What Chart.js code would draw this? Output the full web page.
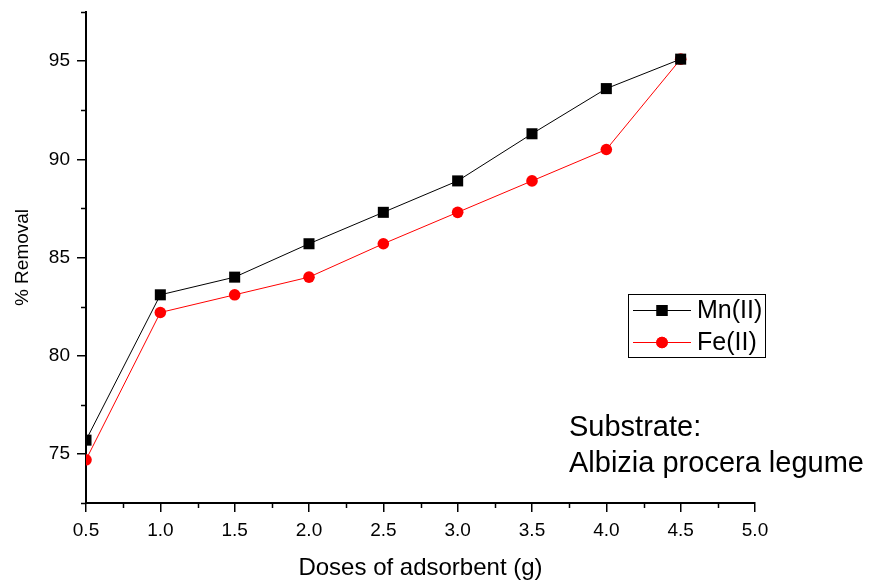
<!DOCTYPE html>
<html>
<head>
<meta charset="utf-8">
<script src="https://cdn.jsdelivr.net/npm/chart.js@4"></script>
<style>
html,body{margin:0;padding:0;background:#fff;}
#wrap{width:870px;height:580px;position:relative;}
</style>
</head>
<body>
<div id="wrap"><canvas id="c" width="870" height="580"></canvas></div>
<script>
const doses = [0.5, 1.0, 1.5, 2.0, 2.5, 3.0, 3.5, 4.0, 4.5];
const mnRemoval = [75.7, 83.1, 84.0, 85.7, 87.3, 88.9, 91.3, 93.6, 95.1];
const feRemoval = [74.7, 82.2, 83.1, 84.0, 85.7, 87.3, 88.9, 90.5, 95.1];
const xTicks = [0.5, 1.0, 1.5, 2.0, 2.5, 3.0, 3.5, 4.0, 4.5, 5.0];
const xMinorTicks = [0.75, 1.25, 1.75, 2.25, 2.75, 3.25, 3.75, 4.25, 4.75];
const yTicks = [75, 80, 85, 90, 95];
const yMinorTicks = [72.5, 77.5, 82.5, 87.5, 92.5, 97.5];
const seriesLabels = ['Mn(II)', 'Fe(II)'];
const noteLines = ['Substrate:', 'Albizia procera legume'];

const FONT = '"Liberation Sans", Arial, sans-serif';

const extrasPlugin = {
  id: 'extras',
  afterDraw(chart) {
    const ctx = chart.ctx;
    const xs = chart.scales.x, ys = chart.scales.y;
    const ca = chart.chartArea;
    ctx.save();
    ctx.strokeStyle = '#000';
    ctx.lineWidth = 1.5;
    xMinorTicks.forEach(v => {
      const px = Math.round(xs.getPixelForValue(v)) + 0.5;
      ctx.beginPath(); ctx.moveTo(px, ca.bottom); ctx.lineTo(px, ca.bottom + 5); ctx.stroke();
    });
    yMinorTicks.forEach(v => {
      const py = Math.round(ys.getPixelForValue(v)) + 0.5;
      ctx.beginPath(); ctx.moveTo(ca.left, py); ctx.lineTo(ca.left - 5, py); ctx.stroke();
    });
    // legend
    ctx.lineWidth = 1;
    ctx.strokeStyle = '#000';
    ctx.strokeRect(628.5, 294.5, 137, 63);
    const rows = [310, 342];
    chart.data.datasets.forEach((ds, i) => {
      const y = rows[i];
      ctx.strokeStyle = ds.borderColor;
      ctx.lineWidth = 1;
      ctx.beginPath(); ctx.moveTo(633, y + 0.5); ctx.lineTo(691, y + 0.5); ctx.stroke();
      ctx.fillStyle = ds.pointBackgroundColor;
      Chart.helpers.drawPoint(ctx, {
        pointStyle: ds.pointStyle, radius: ds.pointRadius, borderWidth: 0, rotation: 0
      }, 662, y + 0.5);
      ctx.fill();
      ctx.fillStyle = '#000';
      ctx.font = '25px ' + FONT;
      ctx.textBaseline = 'middle';
      ctx.textAlign = 'left';
      ctx.fillText(ds.label, 697, y + 1);
    });
    ctx.fillStyle = '#000';
    ctx.font = '29px ' + FONT;
    ctx.textBaseline = 'middle';
    ctx.textAlign = 'left';
    ctx.fillText(noteLines[0], 569, 428);
    ctx.fillText(noteLines[1], 569, 464);
    ctx.restore();
  }
};

new Chart(document.getElementById('c'), {
  type: 'line',
  data: {
    labels: doses,
    datasets: [
      {
        label: seriesLabels[0],
        data: doses.map((d, i) => ({x: d, y: mnRemoval[i]})),
        borderColor: '#000000',
        backgroundColor: '#000000',
        pointBackgroundColor: '#000000',
        pointBorderColor: '#000000',
        pointStyle: 'rect',
        pointRadius: 7.8,
        pointBorderWidth: 0,
        borderWidth: 1,
        tension: 0,
        clip: 0
      },
      {
        label: seriesLabels[1],
        data: doses.map((d, i) => ({x: d, y: feRemoval[i]})),
        borderColor: '#ff0000',
        backgroundColor: '#ff0000',
        pointBackgroundColor: '#ff0000',
        pointBorderColor: '#ff0000',
        pointStyle: 'circle',
        pointRadius: 5.8,
        pointBorderWidth: 0,
        borderWidth: 1,
        tension: 0,
        clip: 0
      }
    ]
  },
  options: {
    responsive: false,
    animation: false,
    devicePixelRatio: 1,
    layout: { padding: { top: 12, right: 115, left: 0, bottom: 0 } },
    plugins: { legend: { display: false }, tooltip: { enabled: false } },
    scales: {
      x: {
        type: 'linear',
        min: 0.5, max: 5.0,
        afterFit(s) { s.height = 77; s.paddingLeft = 0; s.paddingRight = 0; },
        afterBuildTicks(s) { s.ticks = xTicks.map(v => ({value: v})); },
        border: { display: true, color: '#000', width: 2 },
        grid: { display: true, drawOnChartArea: false, drawTicks: true, tickLength: 9, color: '#000', lineWidth: 1.5 },
        ticks: {
          color: '#000', font: { family: FONT, size: 19 }, padding: 7,
          maxRotation: 0, autoSkip: false,
          callback: v => Number(v).toFixed(1)
        },
        title: {
          display: true, text: 'Doses of adsorbent (g)', color: '#000',
          font: { family: FONT, size: 24, lineHeight: 1.0 }, padding: { top: 0, bottom: 0 }
        }
      },
      y: {
        type: 'linear',
        min: 72.5, max: 97.5,
        afterFit(s) { s.width = 86; s.paddingTop = 0; s.paddingBottom = 0; },
        afterBuildTicks(s) { s.ticks = yTicks.map(v => ({value: v})); },
        border: { display: true, color: '#000', width: 2 },
        grid: { display: true, drawOnChartArea: false, drawTicks: true, tickLength: 9, color: '#000', lineWidth: 1.5 },
        ticks: {
          color: '#000', font: { family: FONT, size: 19 }, padding: 7,
          autoSkip: false,
          callback: v => String(v)
        },
        title: {
          display: true, text: '% Removal', color: '#000',
          font: { family: FONT, size: 19, lineHeight: 1.2 }, padding: { top: 11, bottom: 0 }
        }
      }
    }
  },
  plugins: [extrasPlugin]
});
</script>
</body>
</html>
